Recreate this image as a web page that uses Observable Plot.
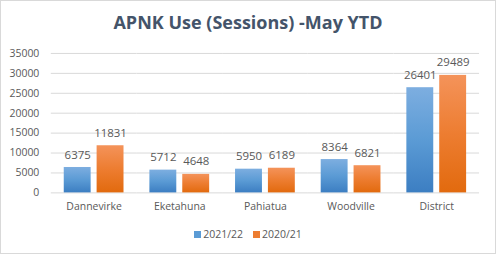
<!DOCTYPE html>
<html><head><meta charset="utf-8">
<script src="https://cdn.jsdelivr.net/npm/d3@7"></script>
<script src="https://cdn.jsdelivr.net/npm/@observablehq/plot@0.6"></script>
<style>
body{margin:0;background:#fff;}
#chart{position:relative;width:496px;height:254px;box-sizing:border-box;border:1px solid #D9D9D9;background:#fff;font-family:"Open Sans",sans-serif;overflow:hidden;}
#title{position:absolute;left:0;top:9px;width:494px;text-align:center;font-weight:bold;font-size:18px;color:#44546A;}
#plot{position:absolute;left:-1px;top:39px;}
#legend{position:absolute;left:0;top:226px;width:494px;text-align:center;font-size:10.5px;color:#595959;}
#legend span.sw{display:inline-block;width:7px;height:7px;margin-right:2px;vertical-align:0px;}
#legend span.it{margin:0 5px;}
</style></head>
<body>
<div id="chart">
<div id="title">APNK Use (Sessions) -May YTD</div>
<div id="plot"></div>
<div id="legend"></div>
</div>
<script>
const categories = ["Dannevirke","Eketahuna","Pahiatua","Woodville","District"];
const seriesNames = ["2021/22","2020/21"];
const values2122 = [6375,5712,5950,8364,26401];
const values2021 = [11831,4648,6189,6821,29489];
const yTicks = [0,5000,10000,15000,20000,25000,30000,35000];

const seriesColors = ["#5B9BD5","#ED7D31"];
const gradIds = ["gBlue","gOrange"];

const data = [];
categories.forEach((c,i)=>{
  data.push({category:c, series:seriesNames[0], value:values2122[i]});
  data.push({category:c, series:seriesNames[1], value:values2021[i]});
});

const chart = Plot.plot({
  width:497, height:182,
  marginLeft:51, marginRight:16, marginTop:13, marginBottom:29,
  style:{fontFamily:"Open Sans, sans-serif", fontSize:"10.5px", color:"#595959", background:"transparent"},
  fx:{domain:categories, padding:0, label:null},
  x:{domain:seriesNames, paddingInner:0.18, paddingOuter:0.39, axis:null},
  y:{domain:[0,35000], ticks:yTicks, label:null},
  color:{domain:seriesNames, range:gradIds.map(id=>`url(#${id})`)},
  marks:[
    Plot.gridY(yTicks,{stroke:"#D9D9D9", strokeOpacity:1}),
    Plot.axisY(yTicks,{tickSize:0, tickPadding:12, label:null, tickFormat:d=>String(d), fill:"#595959"}),
    Plot.axisFx({tickSize:0, tickPadding:10, label:null, fill:"#595959", anchor:"bottom"}),
    Plot.barY(data,{fx:"category", x:"series", y:"value", fill:"series"}),
    Plot.text(data,{fx:"category", x:"series", y:"value", text:d=>String(d.value), lineAnchor:"bottom", dy:-9, fill:"#595959", fontSize:11.5})
  ]
});

// gradients
const svg = d3.select(chart);
const defs = svg.insert("defs",":first-child");
const stops = [["#7DAEE0","#3C7EC2"],["#F4935A","#E26A0E"]];
gradIds.forEach((id,k)=>{
  const g = defs.append("linearGradient").attr("id",id).attr("x1",0).attr("y1",0).attr("x2",0).attr("y2",1);
  g.append("stop").attr("offset","0%").attr("stop-color",stops[k][0]);
  g.append("stop").attr("offset","50%").attr("stop-color",seriesColors[k]);
  g.append("stop").attr("offset","100%").attr("stop-color",stops[k][1]);
});
document.getElementById("plot").appendChild(chart);

const legend = document.getElementById("legend");
seriesNames.forEach((s,k)=>{
  const it = document.createElement("span");
  it.className="it";
  it.innerHTML = `<span class="sw" style="background:${seriesColors[k]}"></span>${s}`;
  legend.appendChild(it);
});
</script>
</body></html>
